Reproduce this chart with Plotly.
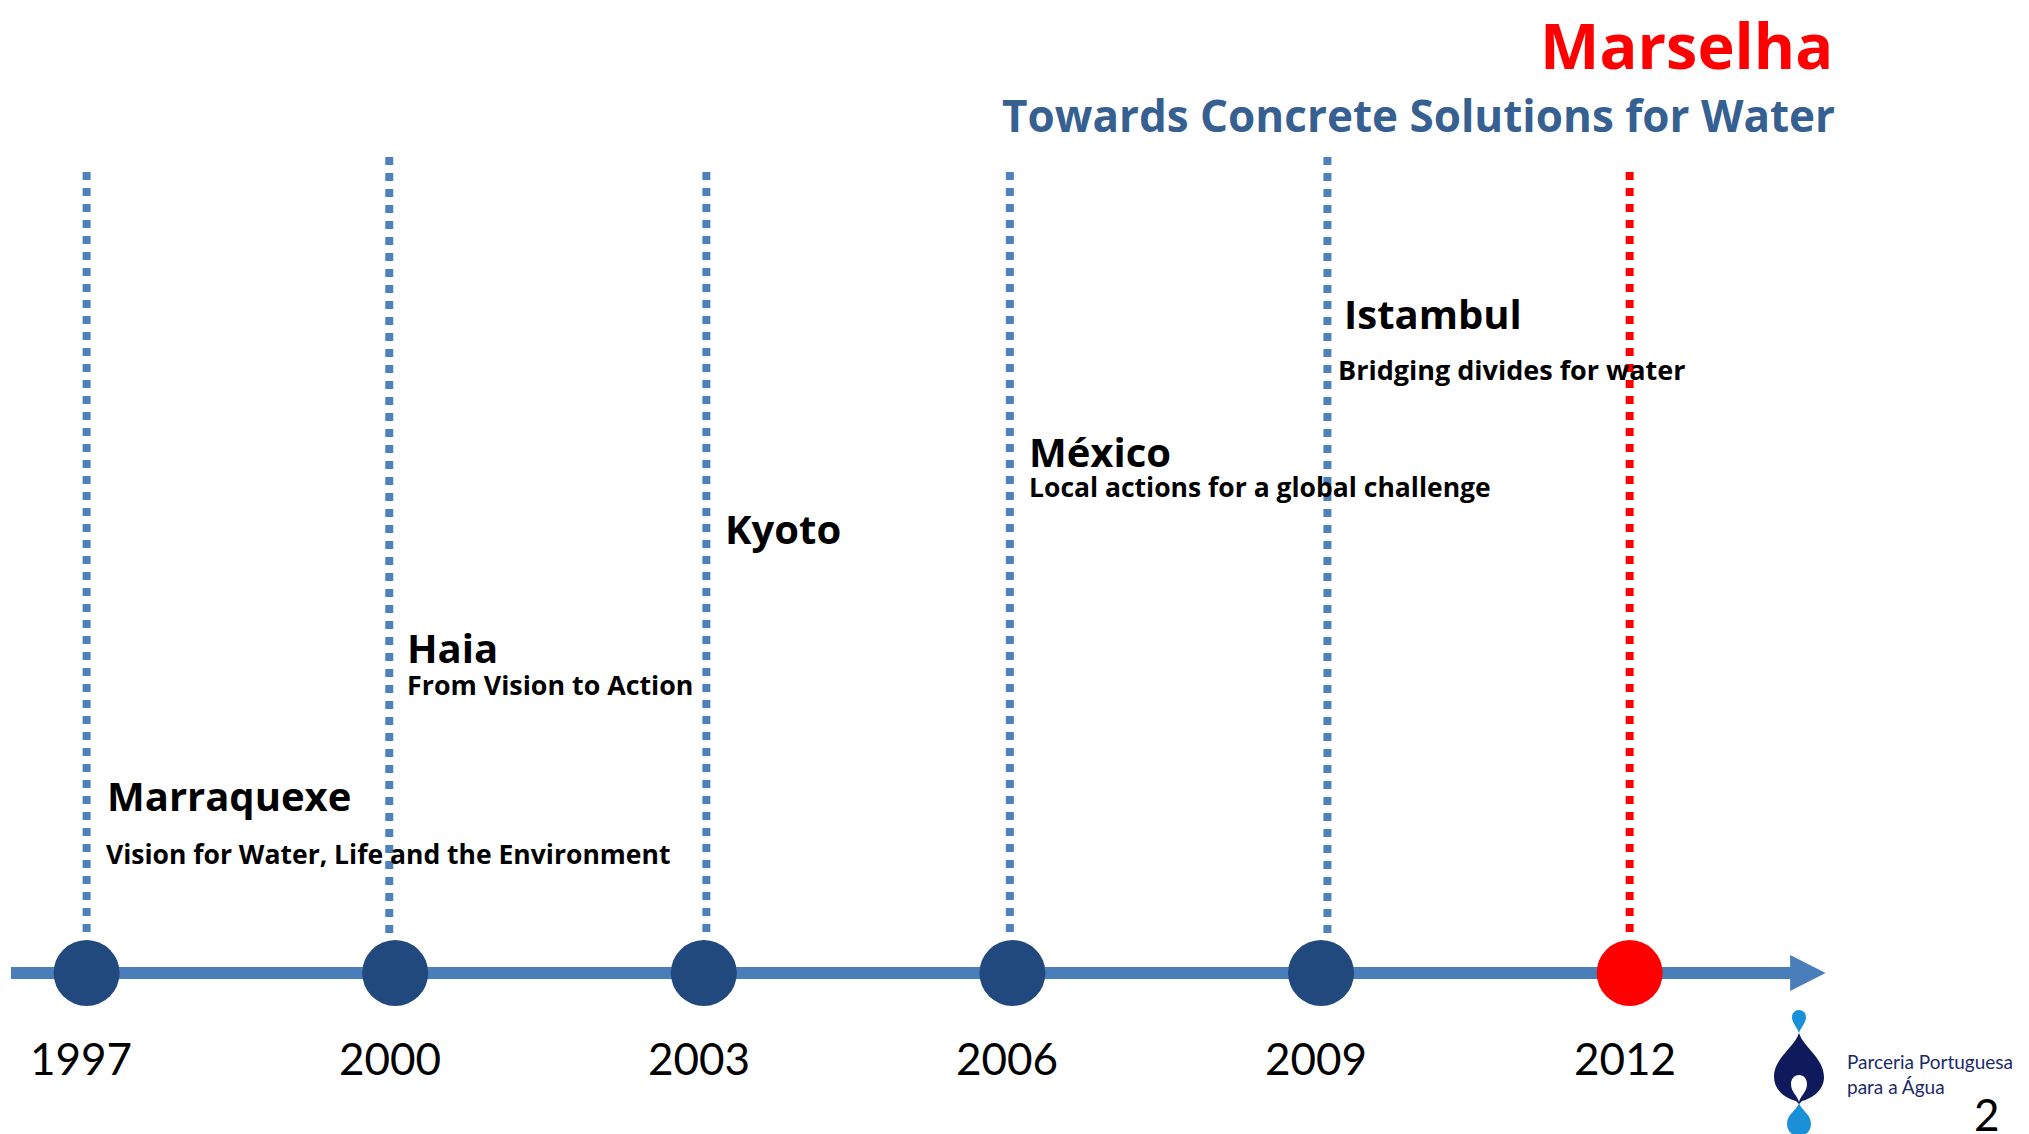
import plotly.graph_objects as go

# ---------------- data ----------------
years = [1997, 2000, 2003, 2006, 2009, 2012]
year_labels = ["1997", "2000", "2003", "2006", "2009", "2012"]
cities = ["Marraquexe", "Haia", "Kyoto", "México", "Istambul", "Marselha"]
themes = [
    "Vision for Water, Life and the Environment",
    "From Vision to Action",
    "",
    "Local actions for a global challenge",
    "Bridging divides for water",
    "Towards Concrete Solutions for Water",
]
highlight = "Marselha"

# ---------------- styling / layout constants ----------------
# the page body adds an 8px margin, so the figure is drawn 8px smaller and the
# scales are set to the visible window (8..2029, 8..1134)
OFF = 8
W, H = 2029 - OFF, 1134 - OFF
FONT = "Lato"
BFONT = "Open Sans"
NAVY = "#21497D"
LINE_BLUE = "#4A7EBB"
DOT_BLUE = "#4F81BD"
RED = "#FF0000"
SUB_BLUE = "#376092"

X_RANGE = [1996.236, 2015.882]
AXIS_Y = 973
line_shift = [0.0, -0.058, 0.025, -0.025, 0.062, 0.0]      # small offsets of dotted guides
line_top = [172, 157, 172, 172, 157, 172]
line_bottom = 935
# label placement (x offset in years from guide, y position)
title_pos = [(0.18, 795), (0.10, 647), (0.19, 528), (0.14, 451), (0.20, 313)]
theme_pos = [(0.17, 854), (0.10, 684), (0.19, 0), (0.14, 487), (0.15, 369)]
sub_sizes = [26.5, 26.8, 26.5, 26.5, 27]

fig = go.Figure()

shapes = []
# timeline shaft
shapes.append(dict(type="line", xref="x", yref="y", x0=1996.265, x1=2013.58,
                   y0=AXIS_Y, y1=AXIS_Y, line=dict(color=LINE_BLUE, width=12), layer="below"))
# arrow head
shapes.append(dict(type="path", xref="x", yref="y",
                   path=f"M 2013.56,{AXIS_Y-18} L 2013.905,{AXIS_Y} L 2013.56,{AXIS_Y+18} Z",
                   fillcolor=LINE_BLUE, line=dict(width=0), layer="below"))
# dotted guides
for i, yr in enumerate(years):
    col = RED if cities[i] == highlight else DOT_BLUE
    shapes.append(dict(type="line", xref="x", yref="y",
                       x0=yr + line_shift[i], x1=yr + line_shift[i],
                       y0=line_top[i], y1=line_bottom,
                       line=dict(color=col, width=8, dash="8px,8px"), layer="below"))

# logo (pixel coordinates on a hidden overlay axis)
LIGHT = "#1A90D8"
LOGO_NAVY = "#0E1A5C"
shapes += [
    dict(type="path", xref="x2", yref="y2", fillcolor=LIGHT, line=dict(width=0),
         path="M1799,1033 C1797,1027 1792,1023 1792,1017 C1792,1013 1795,1010 1799,1010 "
              "C1803,1010 1806,1013 1806,1017 C1806,1023 1801,1027 1799,1033 Z"),
    dict(type="path", xref="x2", yref="y2", fillcolor=LOGO_NAVY, line=dict(width=0),
         path="M1799,1033 C1794,1048 1774,1058 1774,1077 C1774,1090 1785,1098 1796,1101 "
              "L1799,1104 L1802,1101 C1813,1098 1824,1090 1824,1077 C1824,1058 1804,1048 1799,1033 Z"),
    dict(type="path", xref="x2", yref="y2", fillcolor="white", line=dict(width=0),
         path="M1799,1102 C1797,1095 1791,1092 1791,1084 C1791,1079 1794,1075 1799,1075 "
              "C1804,1075 1807,1079 1807,1084 C1807,1092 1801,1095 1799,1102 Z"),
    dict(type="path", xref="x2", yref="y2", fillcolor=LIGHT, line=dict(width=0),
         path="M1799,1103 C1801,1110 1811,1114 1811,1124 C1811,1131 1806,1136 1799,1136 "
              "C1792,1136 1787,1131 1787,1124 C1787,1114 1797,1110 1799,1103 Z"),
]

# milestone circles
fig.add_trace(go.Scatter(
    x=years, y=[AXIS_Y] * len(years), mode="markers",
    marker=dict(size=66, color=[RED if c == highlight else NAVY for c in cities],
                line=dict(width=0)),
    hoverinfo="skip", showlegend=False))

# hidden overlay axis trace (for logo coordinates)
fig.add_trace(go.Scatter(x=[0], y=[0], xaxis="x2", yaxis="y2", mode="markers",
                         marker=dict(size=1, opacity=0), showlegend=False, hoverinfo="skip"))

annotations = []
# year labels
for yr, lab in zip(years, year_labels):
    annotations.append(dict(x=yr - 0.05, y=1058, xref="x", yref="y", text=lab, showarrow=False,
                            xanchor="center", yanchor="middle",
                            font=dict(family=FONT, size=44, color="black")))
# event titles & themes
for i, (c, t) in enumerate(zip(cities, themes)):
    if c == highlight:
        continue
    dx, ty = title_pos[i]
    annotations.append(dict(x=years[i] + dx, y=ty, xref="x", yref="y", text=c, showarrow=False,
                            xanchor="left", yanchor="middle",
                            font=dict(family=BFONT, size=40, color="black", weight="bold")))
    if t:
        dx2, sy = theme_pos[i]
        annotations.append(dict(x=years[i] + dx2, y=sy, xref="x", yref="y", text=t, showarrow=False,
                                xanchor="left", yanchor="middle",
                                font=dict(family=BFONT, size=sub_sizes[i], color="black",
                                          weight="bold")))
# highlighted destination as heading
hi = cities.index(highlight)
annotations.append(dict(x=1835, y=44, xref="x2", yref="y2", text=cities[hi], showarrow=False,
                        xanchor="right", yanchor="middle",
                        font=dict(family=BFONT, size=63, color=RED, weight="bold")))
annotations.append(dict(x=1837, y=115, xref="x2", yref="y2", text=themes[hi], showarrow=False,
                        xanchor="right", yanchor="middle",
                        font=dict(family=BFONT, size=44, color=SUB_BLUE, weight="bold")))
# logo text
annotations.append(dict(x=1845, y=1074, xref="x2", yref="y2",
                        text="Parceria Portuguesa<br>para a Água", showarrow=False,
                        xanchor="left", yanchor="middle", align="left",
                        font=dict(family=FONT, size=19, color="#1B2A6B")))
# page number
annotations.append(dict(x=1987, y=1114, xref="x2", yref="y2", text="2", showarrow=False,
                        xanchor="center", yanchor="middle",
                        font=dict(family=FONT, size=44, color="black")))

fig.update_layout(
    width=W, height=H, margin=dict(l=0, r=0, t=0, b=0),
    paper_bgcolor="white", plot_bgcolor="white",
    xaxis=dict(range=X_RANGE, visible=False, fixedrange=True),
    yaxis=dict(range=[1134, OFF], visible=False, fixedrange=True),
    xaxis2=dict(range=[OFF, 2029], visible=False, overlaying="x", fixedrange=True),
    yaxis2=dict(range=[1134, OFF], visible=False, overlaying="y", fixedrange=True),
    shapes=shapes, annotations=annotations, showlegend=False,
)

fig.write_html("out.html", config={"displayModeBar": False})
